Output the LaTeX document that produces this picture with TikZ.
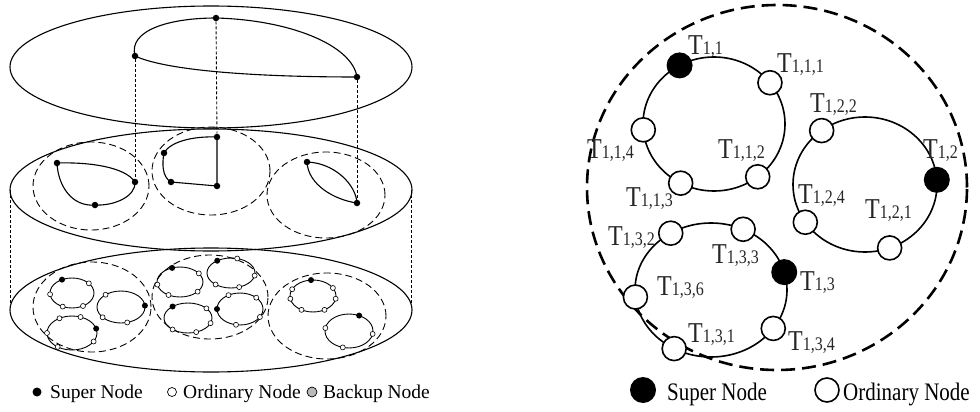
\documentclass[tikz,border=0pt]{standalone}
\usepackage{fontspec}
\setmainfont{Liberation Serif}
\usetikzlibrary{calc}
\newcommand{\Tl}[1]{\scalebox{1}[1.2]{\fontsize{24}{24}\selectfont T\fontsize{16}{16}\selectfont #1}}
\newcommand{\Rtext}[1]{\scalebox{1}[1.2]{\fontsize{21}{21}\selectfont #1}}
\newcommand{\minring}[7]{%
  \draw[ringline] (#2,#3) ellipse [x radius=#4pt, y radius=#5pt];
  \foreach \a [count=\i] in {#7} \node[ordsmall] (#1-\i) at ($(#2,#3)+(\a:#4pt and #5pt)$) {};
  \node[supsmall] (#1-s) at ($(#2,#3)+(#6:#4pt and #5pt)$) {};
}
\begin{document}
\begin{tikzpicture}[x=1pt,y=-1pt,
  layer/.style={line width=1.1pt},
  dashring/.style={dash pattern=on 7pt off 4pt, line width=0.9pt},
  vdash/.style={dash pattern=on 3pt off 2pt, line width=0.9pt},
  link/.style={line width=1.1pt},
  bdot/.style={circle, fill=black, inner sep=0pt, minimum size=6.5pt},
  ordsmall/.style={circle, draw, fill=white, inner sep=0pt, minimum size=5pt, line width=0.6pt},
  supsmall/.style={circle, fill=black, inner sep=0pt, minimum size=6pt},
  ringline/.style={line width=0.9pt},
  bigring/.style={line width=1.6pt},
  bigord/.style={circle, draw, fill=white, line width=1.6pt, inner sep=0pt, minimum size=24pt},
  bigsup/.style={circle, fill=black, inner sep=0pt, minimum size=26pt},
  tlab/.style={anchor=base west, inner sep=0pt, text=black!85},
  legend/.style={anchor=base west, inner sep=0pt, font=\fontsize{19.5}{20}\selectfont},
]
\useasboundingbox (0,0) rectangle (980,412);

% ---------- top layer ----------
\draw[layer] (211,67) ellipse [x radius=201pt, y radius=61pt];
\node[bdot] (t1) at (135,56) {};
\node[bdot] (t2) at (216,18) {};
\node[bdot] (t3) at (357,77) {};
\draw[link] (t1.center) .. controls (128,30) and (170,18) .. (t2.center) .. controls (290,20) and (352,45) .. (t3.center);
\draw[link] (t1.center) .. controls (165,70) and (250,77) .. (t3.center);

% ---------- middle layer ----------
\draw[layer] (211,190) ellipse [x radius=201pt, y radius=61pt];
\draw[dashring] (91,186) ellipse [x radius=58pt, y radius=44pt];
\draw[dashring] (211,171) ellipse [x radius=59pt, y radius=44pt];
\draw[dashring] (326,195) ellipse [x radius=59pt, y radius=43pt];
\node[bdot] (a1) at (57,163) {};
\node[bdot] (a2) at (135,182) {};
\node[bdot] (a3) at (95,205) {};
\draw[link] (a1.center) .. controls (90,162) and (125,167) .. (a2.center) .. controls (136,196) and (115,206) .. (a3.center) .. controls (72,207) and (58,186) .. (a1.center);
\node[bdot] (c1) at (217,137) {};
\node[bdot] (c2) at (164,153) {};
\node[bdot] (c3) at (171,182) {};
\node[bdot] (c4) at (217,186) {};
\draw[link] (c1.center) .. controls (192,136) and (170,142) .. (c2.center) .. controls (162,163) and (162,177) .. (c3.center) -- (c4.center) -- (c1.center);
\node[bdot] (r1) at (307,162) {};
\node[bdot] (r2) at (357,203) {};
\draw[link] (r1.center) .. controls (308,185) and (335,200) .. (r2.center);
\draw[link] (r1.center) .. controls (335,163) and (356,185) .. (r2.center);

% vertical projections
\draw[vdash] (t1) -- (a2);
\draw[vdash] (t2) -- (c1);
\draw[vdash] (t3) -- (r2);
\coordinate (mL) at (10.5,190);
\coordinate (mR) at (411.5,190);
\coordinate (bL) at (10.5,310);
\coordinate (bR) at (411.5,310);
\draw[vdash] (mL) -- (bL);
\draw[vdash] (mR) -- (bR);

% ---------- bottom layer ----------
\draw[layer] (211,310) ellipse [x radius=201pt, y radius=62pt];
\draw[dashring] (92,307) ellipse [x radius=59pt, y radius=45pt];
\draw[dashring] (210,297) ellipse [x radius=58pt, y radius=42pt];
\draw[dashring] (327,316) ellipse [x radius=59pt, y radius=43pt];
\minring{A}{72}{293}{22}{15}{117}{40,185,245,300}
\minring{B}{121}{307}{24}{16}{5}{130,220,285}
\minring{C}{72}{333}{25}{17}{15}{70,120,180,235,330}
\minring{D}{180}{282}{23}{15}{110}{35,190,240,320}
\minring{E}{231}{273}{24}{15}{125}{75,350,230,290}
\minring{F}{188}{318}{24}{15}{130}{40,340,290,230}
\minring{G}{240}{309}{23}{16}{180}{120,45,330,260}
\minring{H}{313}{296}{23}{16}{95}{155,30,190,350,240,300}
\minring{I}{349}{331}{24}{17}{65}{170,350,255}

% legend left
\node[circle, fill=black, inner sep=0pt, minimum size=9pt] (lg1) at (37,392) {};
\node[legend] (lt1) at (50,398) {Super Node};
\node[circle, draw, fill=white, inner sep=0pt, minimum size=9pt, line width=0.7pt] (lg2) at (172,392) {};
\node[legend] (lt2) at (183,398) {Ordinary Node};
\node[circle, draw, fill=gray!55, inner sep=0pt, minimum size=10pt, line width=0.7pt] (lg3) at (312,392) {};
\node[legend] (lt3) at (323,398) {Backup Node};

% ---------- right diagram ----------
\draw[line width=2.6pt, dash pattern=on 14pt off 7pt] (777,187.5) ellipse [x radius=190pt, y radius=182.5pt];

\coordinate (R1) at (714,124);
\coordinate (R2) at (865,184.5);
\coordinate (R3) at (711,290);
\draw[bigring] (R1) ellipse [x radius=71pt, y radius=67pt];
\draw[bigring] (R2) ellipse [x radius=72pt, y radius=67.5pt];
\draw[bigring] (R3) ellipse [x radius=76pt, y radius=67pt];

\node[tlab] (l11) at (688,55) {\Tl{1,1}};
\node[tlab] (l111) at (777,73) {\Tl{1,1,1}};
\node[tlab] (l122) at (810,112) {\Tl{1,2,2}};
\node[tlab] (l114) at (587,158) {\Tl{1,1,4}};
\node[tlab] (l112) at (718,158) {\Tl{1,1,2}};
\node[tlab] (l12) at (923,158) {\Tl{1,2}};
\node[tlab] (l113) at (626,206) {\Tl{1,1,3}};
\node[tlab] (l124) at (798,203) {\Tl{1,2,4}};
\node[tlab] (l121) at (865,218) {\Tl{1,2,1}};
\node[tlab] (l132) at (608,245) {\Tl{1,3,2}};
\node[tlab] (l133) at (712,263) {\Tl{1,3,3}};
\node[tlab] (l13) at (800,290) {\Tl{1,3}};
\node[tlab] (l136) at (657,295) {\Tl{1,3,6}};
\node[tlab] (l131) at (688,342) {\Tl{1,3,1}};
\node[tlab] (l134) at (788,350) {\Tl{1,3,4}};

\node[bigsup] (n11)  at ($(R1)+(119:71pt and 67pt)$) {};
\node[bigord] (n111) at ($(R1)+(38:71pt and 67pt)$) {};
\node[bigord] (n112) at ($(R1)+(-52:71pt and 67pt)$) {};
\node[bigord] (n113) at ($(R1)+(242:71pt and 67pt)$) {};
\node[bigord] (n114) at ($(R1)+(185:71pt and 67pt)$) {};
\node[bigsup] (n12)  at ($(R2)+(4:72pt and 67.5pt)$) {};
\node[bigord] (n121) at ($(R2)+(-70:72pt and 67.5pt)$) {};
\node[bigord] (n122) at ($(R2)+(127:72pt and 67.5pt)$) {};
\node[bigord] (n124) at ($(R2)+(214:72pt and 67.5pt)$) {};
\node[bigsup] (n13)  at ($(R3)+(15.5:76pt and 67pt)$) {};
\node[bigord] (n131) at ($(R3)+(241:76pt and 67pt)$) {};
\node[bigord] (n132) at ($(R3)+(122:76pt and 67pt)$) {};
\node[bigord] (n133) at ($(R3)+(65:76pt and 67pt)$) {};
\node[bigord] (n134) at ($(R3)+(-35:76pt and 67pt)$) {};
\node[bigord] (n136) at ($(R3)+(186:76pt and 67pt)$) {};

% legend right
\node[bigsup] (rg1) at (643,390) {};
\node[anchor=base west, inner sep=0pt] (rt1) at (667,400) {\Rtext{Super Node}};
\node[bigord] (rg2) at (827,390) {};
\node[anchor=base west, inner sep=0pt] (rt2) at (843,400) {\Rtext{Ordinary Node}};
\end{tikzpicture}
\end{document}
